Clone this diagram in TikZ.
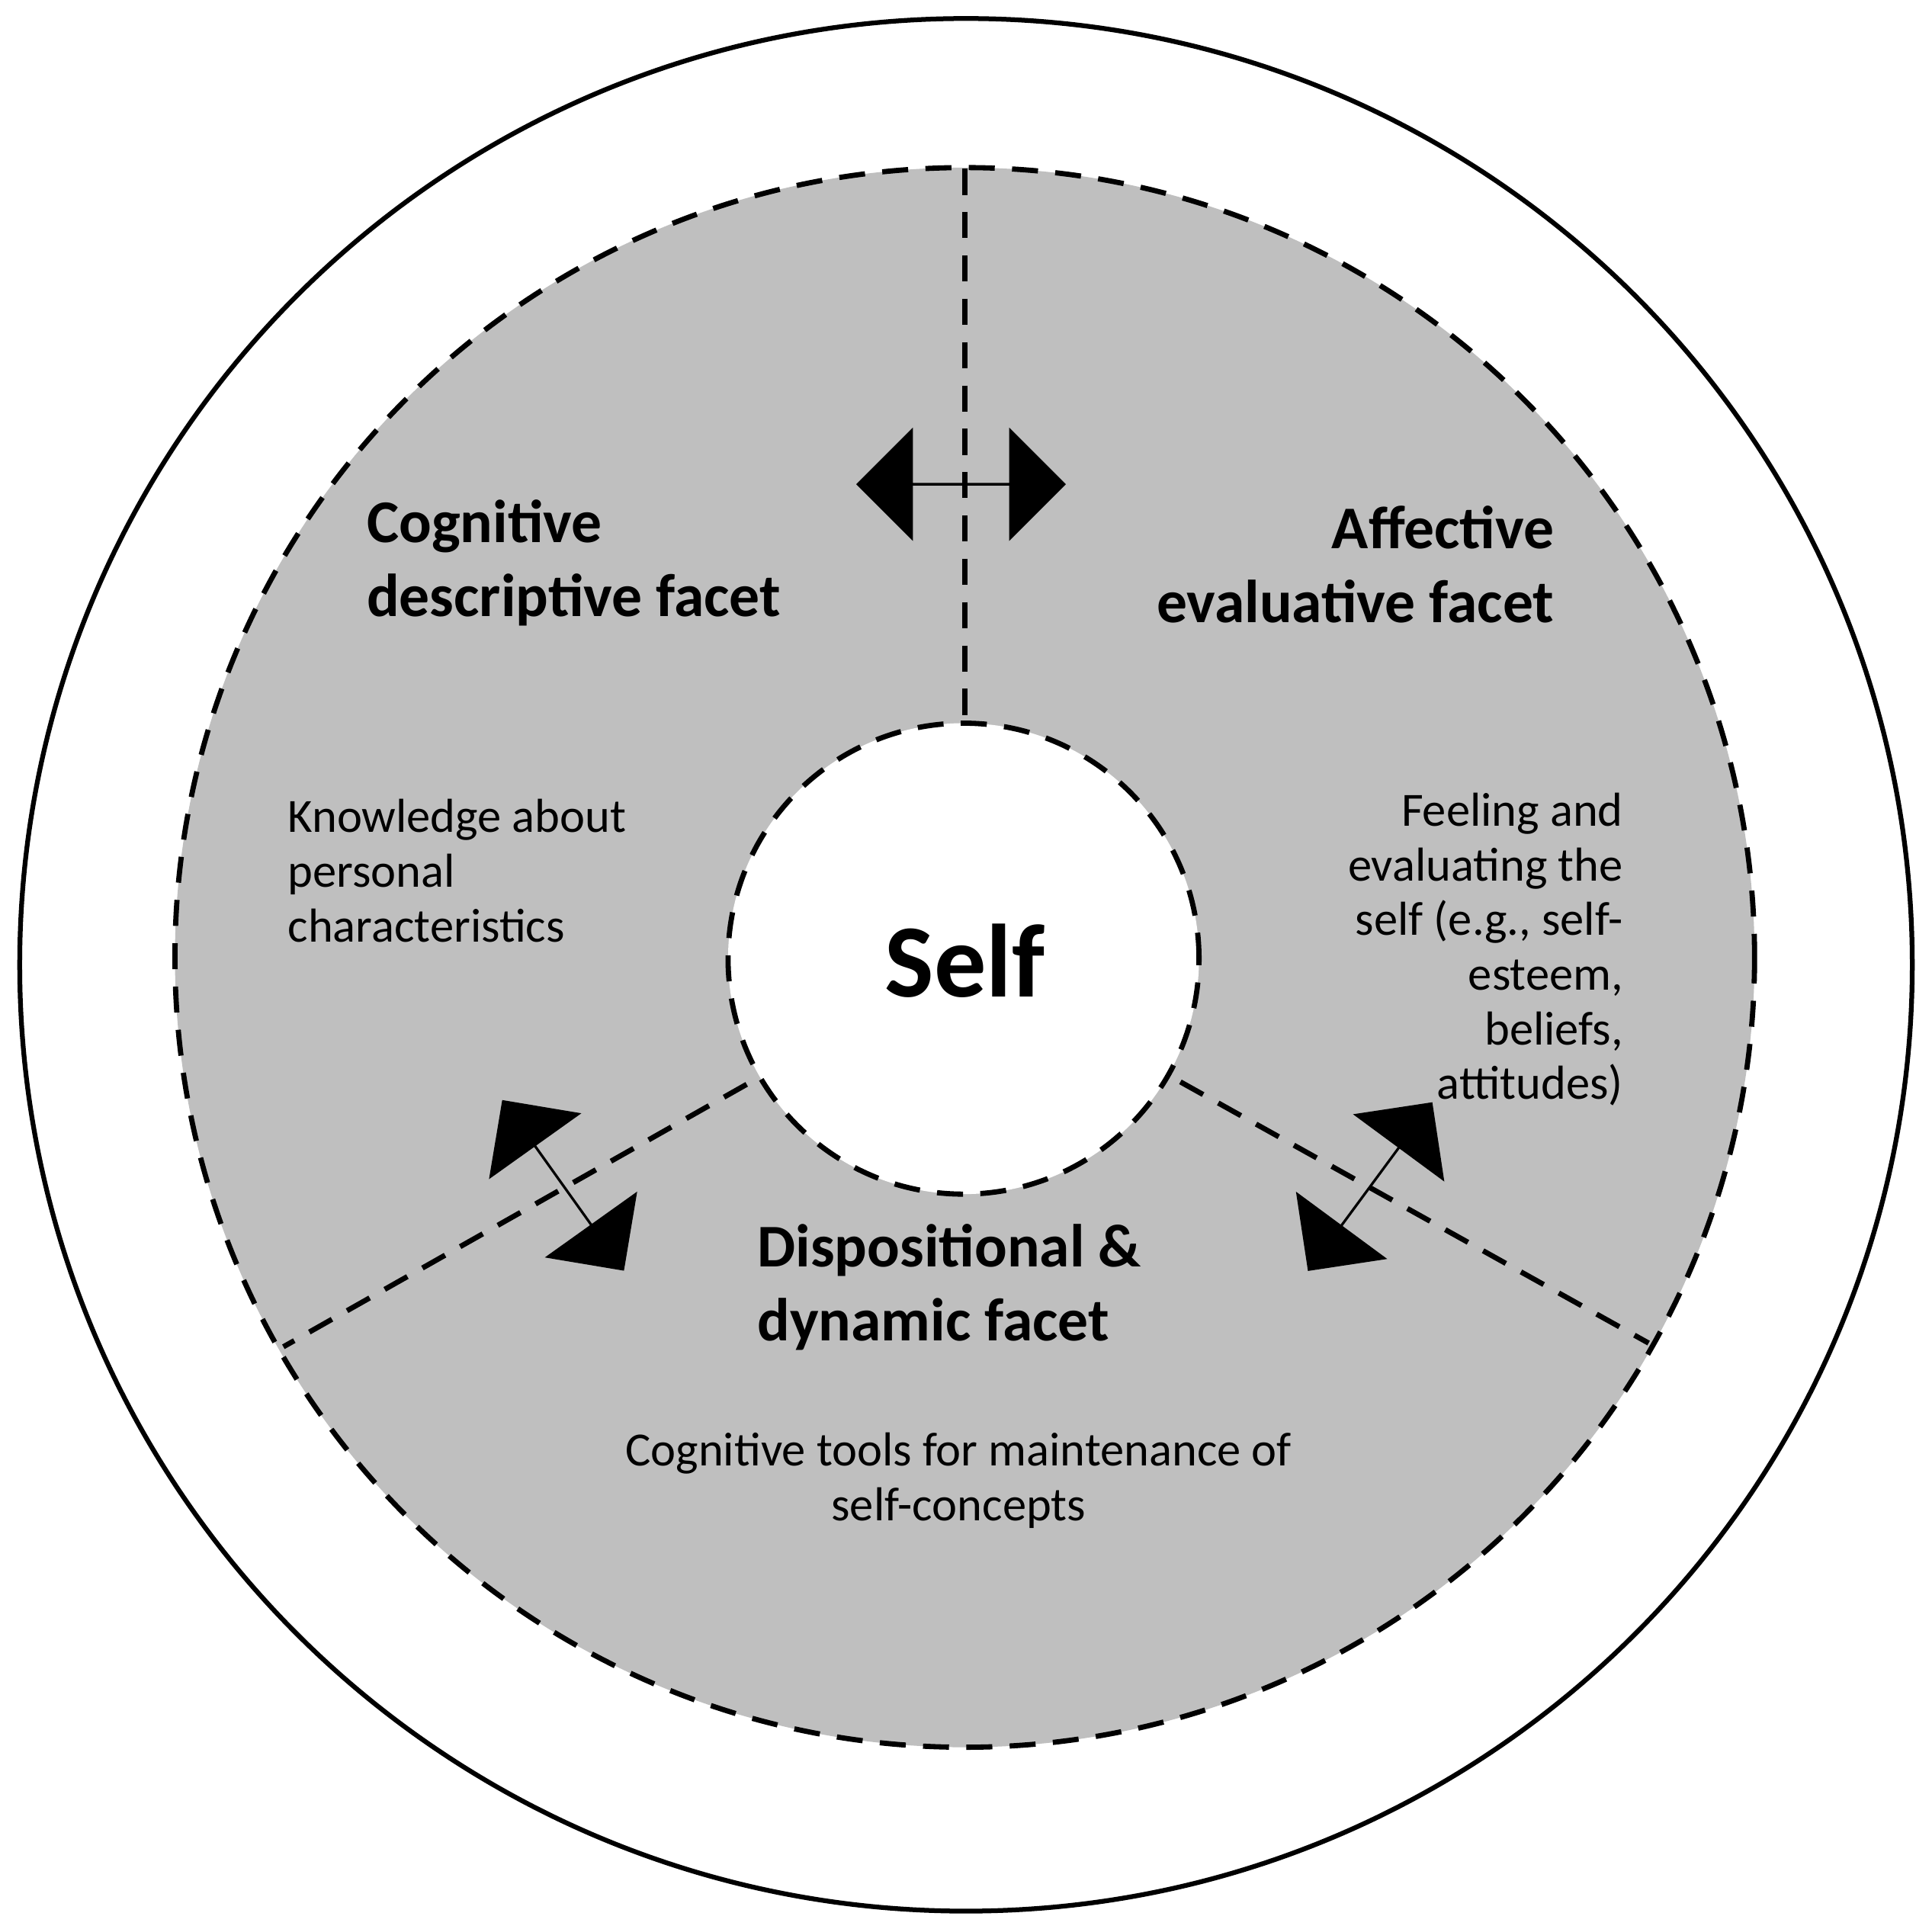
\documentclass[tikz,border=0pt]{standalone}
\usepackage{fontspec}
\setmainfont{Carlito}
\usetikzlibrary{shapes.arrows}
\begin{document}
\begin{tikzpicture}[x=0.01cm,y=-0.01cm,
  dsh/.style={line width=1.2pt,dash pattern=on 6pt off 4pt},
  darr/.style={double arrow,fill=black,draw=none,minimum height=1.7cm,minimum width=0.92cm,double arrow head extend=0.31cm,inner sep=0pt},
  head/.style={font=\fontsize{14}{17}\selectfont\bfseries,inner sep=0pt},
  body/.style={font=\fontsize{11}{12.6}\selectfont,inner sep=0pt}]
\useasboundingbox (0,0) rectangle (1568,1565);
\draw[line width=1.1pt,fill=white] (784,783) circle (768);
\fill[black!25] (783,777) circle (641);
\draw[dsh] (783,777) circle (641);
\coordinate (top) at (783,137);
\coordinate (ti) at (783,587);
\coordinate (ll) at (230,1093);
\coordinate (lli) at (606,880);
\coordinate (lr) at (1338,1090);
\coordinate (lri) at (958,878);
\draw[dsh] (top) -- (ti);
\draw[dsh] (lli) -- (ll);
\draw[dsh] (lri) -- (lr);
\node[circle,fill=white,draw,dsh,minimum size=3.82cm] (self) at (782,778) {};
\node[font=\fontsize{24}{28}\selectfont\bfseries] (selft) at (783,780) {Self};
\node[darr] (a1) at (780,393) {};
\node[darr,rotate=-54.5] (a2) at (457,962) {};
\node[darr,rotate=53.6] (a3) at (1112,963) {};
\node[head,align=left,anchor=north west] (cog) at (297,405) {Cognitive\\descriptive facet};
\node[head,align=right,anchor=north east] (aff) at (1262,410) {Affective\\evaluative facet};
\node[head,align=left,anchor=north west] (dis) at (614,993) {Dispositional \&\\dynamic facet};
\node[body,align=left,anchor=north west] (kn) at (233,648) {Knowledge about\\personal\\characteristics};
\node[body,align=right,anchor=north east] (fe) at (1318,643) {Feeling and\\evaluating the\\self (e.g., self-\\esteem,\\beliefs,\\attitudes)};
\node[body,align=center,anchor=north] (ct) at (778,1162) {Cognitive tools for maintenance of\\self-concepts};
\end{tikzpicture}
\end{document}
